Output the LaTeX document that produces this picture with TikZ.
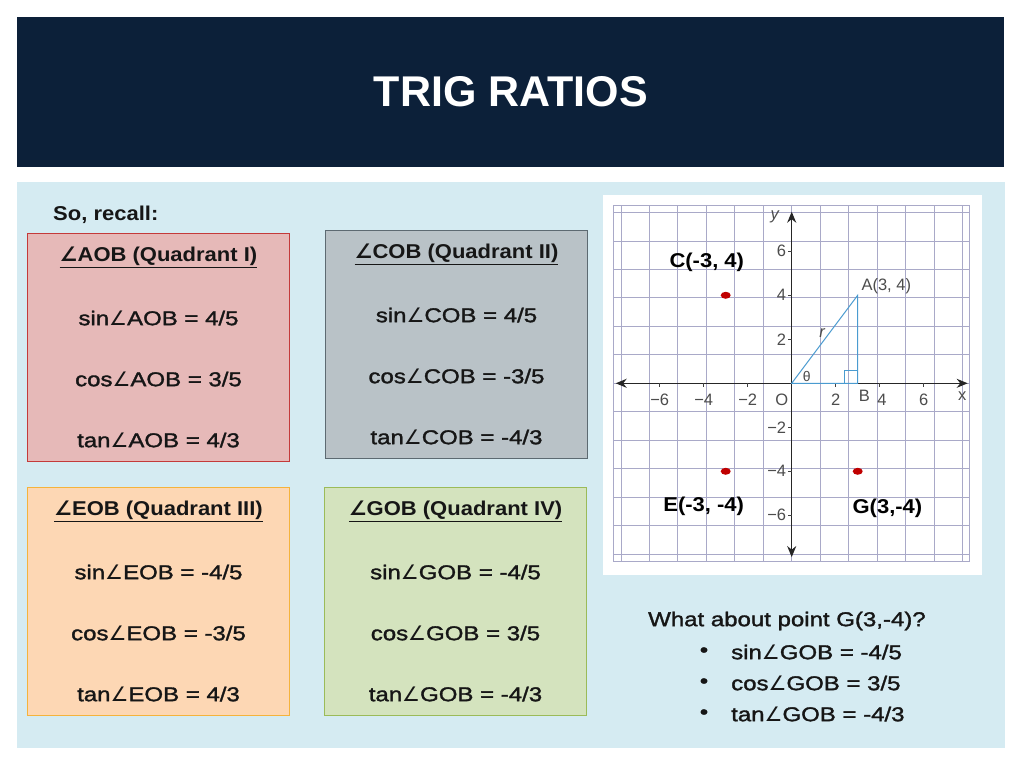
\documentclass[tikz,border=0pt]{standalone}
\usepackage{fontspec}
\setmainfont{Liberation Sans}[BoldFeatures={FakeStretch=1.1}]
\newfontfamily\bodyfont{Liberation Sans}[FakeStretch=1.2, FakeBold=1.6]
\newfontfamily\titlefont{Liberation Sans Bold}
\newfontfamily\plotfont{Liberation Sans}
\newfontfamily\angfont{DejaVu Sans}
\newcommand{\ang}{{\angfont ∠}}
\usepackage{tikz}
\usetikzlibrary{positioning,shapes,arrows.meta}

\definecolor{navy}{HTML}{0C2039}
\definecolor{panel}{HTML}{D5EBF2}
\definecolor{ink}{HTML}{161616}
\definecolor{redfill}{HTML}{E6B9B8}
\definecolor{redline}{HTML}{C43A3A}
\definecolor{grayfill}{HTML}{B9C2C7}
\definecolor{grayline}{HTML}{5D6A72}
\definecolor{peachfill}{HTML}{FDD7B4}
\definecolor{peachline}{HTML}{F5B33C}
\definecolor{greenfill}{HTML}{D4E3BE}
\definecolor{greenline}{HTML}{9BBB59}
\definecolor{gridcol}{HTML}{A9A9C8}
\definecolor{tricol}{HTML}{4A9BD0}
\definecolor{dotred}{HTML}{C00000}

\begin{document}
\begin{tikzpicture}[x=1pt, y=1pt,
      box/.style={rectangle, line width=1pt, anchor=south west, minimum width=262pt, minimum height=228pt},
      txt/.style={text=ink, font=\bodyfont\fontsize{20}{24}\selectfont, inner sep=1pt},
      head/.style={txt, font=\bfseries\fontsize{20}{24}\selectfont},
      tick/.style={text=black!70, font=\plotfont\fontsize{16.5}{18}\selectfont, inner sep=1pt},
      ptlabel/.style={text=black, font=\bfseries\fontsize{20}{22}\selectfont, inner sep=1pt},
      dot/.style={ellipse, fill=dotred, minimum width=10pt, minimum height=7pt, inner sep=0pt},
      tri/.style={draw=tricol, line width=1pt},
      ]
      \useasboundingbox (0,0) rectangle (1024,768);
      \fill[white] (0,0) rectangle (1024,768);

      % title bar
      \node[rectangle, fill=navy, anchor=south west, minimum width=987pt, minimum height=150pt] (bar) at (17,601) {};
      \node[text=white, font=\titlefont\fontsize{43}{50}\selectfont] (title) at (bar.center) {TRIG RATIOS};

      % content panel
      \node[rectangle, fill=panel, anchor=south west, minimum width=988pt, minimum height=566pt] (panel) at (17,20) {};
      \node[head, anchor=west] (recall) at (52,553) {So, recall:};

      % the four quadrant boxes
      \node[box, draw=redline, fill=redfill] (AOB) at (27,306) {};
      \node[box, draw=grayline, fill=grayfill] (COB) at (325,309) {};
      \node[box, draw=peachline, fill=peachfill] (EOB) at (27,52) {};
      \node[box, draw=greenline, fill=greenfill] (GOB) at (324,52) {};

      \node[head] (AOBh) at ([yshift=-24pt]AOB.north) {\underline{\ang AOB (Quadrant I)}};
      \node[txt] (AOBs) at ([yshift=-85pt]AOB.north) {sin\ang AOB = 4/5};
      \node[txt] (AOBc) at ([yshift=-146pt]AOB.north) {cos\ang AOB = 3/5};
      \node[txt] (AOBt) at ([yshift=-207pt]AOB.north) {tan\ang AOB = 4/3};

      \node[head] (COBh) at ([yshift=-24pt]COB.north) {\underline{\ang COB (Quadrant II)}};
      \node[txt] (COBs) at ([yshift=-85pt]COB.north) {sin\ang COB = 4/5};
      \node[txt] (COBc) at ([yshift=-146pt]COB.north) {cos\ang COB = -3/5};
      \node[txt] (COBt) at ([yshift=-207pt]COB.north) {tan\ang COB = -4/3};

      \node[head] (EOBh) at ([yshift=-24pt]EOB.north) {\underline{\ang EOB (Quadrant III)}};
      \node[txt] (EOBs) at ([yshift=-85pt]EOB.north) {sin\ang EOB = -4/5};
      \node[txt] (EOBc) at ([yshift=-146pt]EOB.north) {cos\ang EOB = -3/5};
      \node[txt] (EOBt) at ([yshift=-207pt]EOB.north) {tan\ang EOB = 4/3};

      \node[head] (GOBh) at ([yshift=-24pt]GOB.north) {\underline{\ang GOB (Quadrant IV)}};
      \node[txt] (GOBs) at ([yshift=-85pt]GOB.north) {sin\ang GOB = -4/5};
      \node[txt] (GOBc) at ([yshift=-146pt]GOB.north) {cos\ang GOB = 3/5};
      \node[txt] (GOBt) at ([yshift=-207pt]GOB.north) {tan\ang GOB = -4/3};

      % coordinate plane
      \node[rectangle, fill=white, anchor=south west, minimum width=379pt, minimum height=380pt] (plot) at (603,193) {};
      \begin{scope}[shift={(791.7pt,384.7pt)}, x=22pt, y=22pt]
        \draw[gridcol, line width=0.9pt] (-8.1,-8.1) grid (8.1,8.1);
        \draw[gridcol, line width=0.9pt] (-8.1,-8.1) rectangle (8.1,8.1);
        \coordinate (xl) at (-8,0);
        \coordinate (xr) at (8,0);
        \coordinate (yb) at (0,-7.9);
        \coordinate (yt) at (0,7.8);
        \draw[black!85, line width=1.3pt, {Stealth[length=11pt,width=9pt]}-{Stealth[length=11pt,width=9pt]}] (xl) -- (xr);
        \draw[black!85, line width=1.3pt, {Stealth[length=11pt,width=9pt]}-{Stealth[length=11pt,width=9pt]}] (yb) -- (yt);
        \foreach \t/\s in {-6/−6, -4/−4, -2/−2, 2/2, 4/4, 6/6} {
          \draw[black!75, line width=0.8pt] (\t,0) -- ++(0,-4pt);
          \draw[black!75, line width=0.8pt] (0,\t) -- ++(-4pt,0);
          \node[tick, anchor=east] (ty\t) at (-0.2,\t) {\s};
        }
        \foreach \t/\s in {-6/−6, -4/−4, -2/−2, 2/2, 6/6} {
          \node[tick] (tx\t) at (\t,-0.75) {\s};
        }
        \node[tick] (tx4) at (4.1,-0.75) {4};
        \node[tick] (origin) at (-0.45,-0.75) {O};
        \node[tick] (xlab) at (7.75,-0.6) {x};
        \node[tick] (ylab) at (-0.75,7.55) {\textit{y}};

        % triangle OAB
        \coordinate (O) at (0,0);
        \coordinate (A) at (3,4);
        \coordinate (B) at (3,0);
        \draw[tri] (O) -- (A) -- (B) -- cycle;
        \draw[tri] (2.42,0) |- (3,0.58);
        \node[tick] (Alab) at (4.3,4.4) {A(3, 4)};
        \node[tick] (Blab) at (3.3,-0.55) {B};
        \node[tick] (rlab) at (1.4,2.3) {\textit{r}};
        \node[tick, font=\plotfont\fontsize{14}{16}\selectfont] (th) at (0.68,0.32) {θ};

        % the other points
        \node[dot] (C) at (-3,4) {};
        \node[dot] (E) at (-3,-4) {};
        \node[dot] (G) at (3,-4) {};
        \node[ptlabel] (Clab) at (-3.86,5.5) {C(-3, 4)};
        \node[ptlabel] (Elab) at (-4.0,-5.6) {E(-3, -4)};
        \node[ptlabel] (Glab) at (4.35,-5.7) {G(3,-4)};
      \end{scope}

      % question about G
      \node[txt, anchor=west] (what) at (647,147) {What about point G(3,-4)?};
      \node[txt] (b1) at (704,116) {•};
      \node[txt] (b2) at (704,85) {•};
      \node[txt] (b3) at (704,54) {•};
      \node[txt, anchor=west] (q1) at (730,116) {sin\ang GOB = -4/5};
      \node[txt, anchor=west] (q2) at (730,85) {cos\ang GOB = 3/5};
      \node[txt, anchor=west] (q3) at (730,54) {tan\ang GOB = -4/3};
    \end{tikzpicture}
\end{document}
